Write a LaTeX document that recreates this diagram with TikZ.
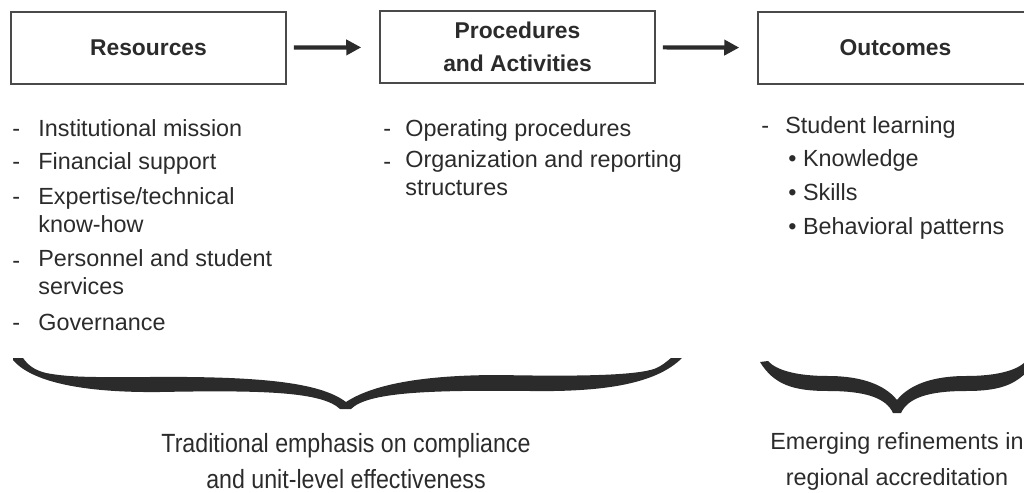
\documentclass[tikz,border=0pt]{standalone}
\usepackage{fontspec}
\setmainfont{Liberation Sans}
\newfontfamily\narrowfont{Liberation Sans}[FakeStretch=0.88]
\usetikzlibrary{arrows.meta}
\definecolor{inkgray}{HTML}{2B2B2B}
\definecolor{boxgray}{HTML}{4A4A4A}

\begin{document}
\begin{tikzpicture}[x=0.02cm,y=-0.02cm,
    stage box/.style={draw=boxgray,line width=0.9pt,minimum width=5.5cm,minimum height=1.44cm,
      text=inkgray,align=center,font=\fontsize{13}{19}\selectfont\bfseries},
    item/.style={anchor=base west,inner sep=0pt,text=inkgray,align=left,
      font=\fontsize{13.3}{16}\selectfont},
    flow arrow/.style={-{Triangle[length=0.3cm,width=0.3cm]},line width=2.4pt,draw=inkgray,
      shorten <=0.14cm,shorten >=0.36cm},
    brace/.style={fill=inkgray,draw=none},
    note/.style={text=inkgray,align=center,inner sep=0pt}]

      \useasboundingbox (0,0) rectangle (1024,493);
      \clip (0,0) rectangle (1024,493);

      % Define boxes
      \node[stage box] (res) at (148.5,48) {Resources};
      \node[stage box] (proc) at (517.5,47) {Procedures\\and Activities};
      \node[stage box] (out) at (895.5,48) {Outcomes};

      % Draw arrows
      \draw[flow arrow] (res) -- (proc);
      \draw[flow arrow] (proc) -- (out);

      % Resources list (multi-line items sit on their last line)
      \node[item] (rd1) at (12,137) {-};
      \node[item] (r1) at (38,137) {Institutional mission};
      \node[item] (rd2) at (12,170) {-};
      \node[item] (r2) at (38,170) {Financial support};
      \node[item] (rd3) at (12,205) {-};
      \node[item] (r3) at (38,233) {Expertise/technical\\know-how};
      \node[item] (rd4) at (12,268) {-};
      \node[item] (r4) at (38,295) {Personnel and student\\services};
      \node[item] (rd5) at (12,330) {-};
      \node[item] (r5) at (38,330) {Governance};

      % Procedures list
      \node[item] (pd1) at (383,137) {-};
      \node[item] (p1) at (405,137) {Operating procedures};
      \node[item] (pd2) at (383,170) {-};
      \node[item] (p2) at (405,196) {Organization and reporting\\structures};

      % Outcomes list
      \node[item] (od1) at (761,134) {-};
      \node[item] (o1) at (785,134) {Student learning};
      \node[item] (o2) at (788,167) {• Knowledge};
      \node[item] (o3) at (788,201) {• Skills};
      \node[item] (o4) at (788,235) {• Behavioral patterns};

      % Braces
      \fill[brace] (23,358) .. controls (28,365) and (34,370) .. (46,373)
        .. controls (72,378) and (100,377) .. (150,377)
        .. controls (270,376) and (322,384) .. (346,402)
        .. controls (372,385) and (420,375) .. (500,375)
        .. controls (600,377) and (638,374) .. (654,369)
        .. controls (662,366) and (666,362) .. (671,358) -- (682,358)
        .. controls (655,385) and (600,392) .. (530,391)
        .. controls (430,390) and (368,392) .. (351,409) -- (340,409)
        .. controls (322,392) and (265,390) .. (160,392)
        .. controls (70,393) and (28,378) .. (13,360) -- (13,358) -- cycle;
      \fill[brace] (768,361) .. controls (776,370) and (796,376) .. (828,376)
        .. controls (862,376) and (885,385) .. (897,400)
        .. controls (909,385) and (932,376) .. (966,376)
        .. controls (998,376) and (1018,370) .. (1026,361) -- (1035,361)
        .. controls (1020,385) and (1000,391) .. (966,391)
        .. controls (928,391) and (908,398) .. (901,413) -- (893,413)
        .. controls (886,398) and (866,391) .. (828,391)
        .. controls (794,391) and (774,385) .. (760,362) -- cycle;

      % Notes under braces
      \node[note,font=\fontsize{15}{20.5}\selectfont\narrowfont] (trad) at (346,461)
        {Traditional emphasis on compliance\\and unit-level effectiveness};
      \node[note,font=\fontsize{13.3}{20.5}\selectfont] (emerg) at (897,461)
        {Emerging refinements in\\regional accreditation};

    \end{tikzpicture}
\end{document}
